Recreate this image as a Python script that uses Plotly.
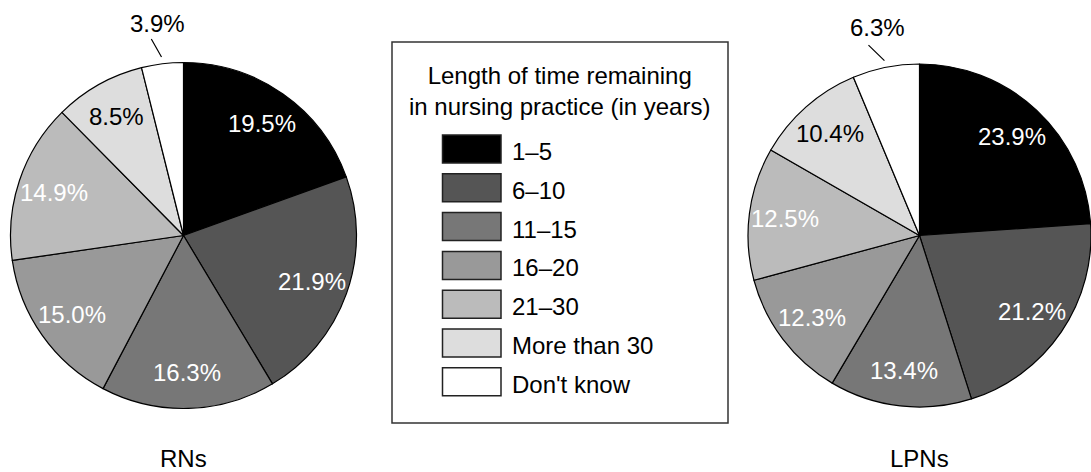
import math
import plotly.graph_objects as go

# ---- data ----------------------------------------------------------------
categories = ["1–5", "6–10", "11–15", "16–20", "21–30", "More than 30", "Don't know"]
rn_values = [19.5, 21.9, 16.3, 15.0, 14.9, 8.5, 3.9]
lpn_values = [23.9, 21.2, 13.4, 12.3, 12.5, 10.4, 6.3]
group_names = ["RNs", "LPNs"]
legend_title = "Length of time remaining<br>in nursing practice (in years)"

# ---- styling -------------------------------------------------------------
slice_colors = ["#000000", "#555555", "#777777", "#999999", "#bbbbbb", "#dddddd", "#ffffff"]
label_colors = ["white", "white", "white", "white", "white", "black", "black"]

W, H = 1091, 472
FONT = "Liberation Sans, Arial, Helvetica, sans-serif"
FS = 24

# pie geometry in pixels: centre x, centre y, radius
pie_geom = [(183.5, 235.5, 173.0), (919.5, 235.5, 171.5)]
INSIDE_R = 0.79      # radial position of inside labels (fraction of radius)
SMALL_SLICE = 7.0    # slices below this share get an outside label with a leader


def px(x):
    return x / W


def py(y):
    return 1 - y / H


def polar(cx, cy, r, deg):
    a = math.radians(deg)
    return cx + r * math.sin(a), cy - r * math.cos(a)


fig = go.Figure()
annotations = []
shapes = []

for name, values, (cx, cy, r) in zip(group_names, [rn_values, lpn_values], pie_geom):
    fig.add_trace(go.Pie(
        labels=categories,
        values=values,
        name=name,
        sort=False,
        direction="clockwise",
        rotation=0,
        textinfo="none",
        hovertemplate="%{label}: %{value:.1f}%<extra>" + name + "</extra>",
        marker=dict(colors=slice_colors, line=dict(color="#000000", width=1.2)),
        domain=dict(x=[px(cx - r), px(cx + r)], y=[py(cy + r), py(cy - r)]),
        showlegend=False,
    ))

    total = sum(values)
    cum = 0.0
    for v, tc in zip(values, label_colors):
        mid = (cum + v / 2) / total * 360.0
        cum += v
        text = f"{v:.1f}%"
        if v >= SMALL_SLICE:
            x, y = polar(cx, cy, r * INSIDE_R, mid)
            annotations.append(dict(
                x=px(x), y=py(y), xref="paper", yref="paper", text=text,
                showarrow=False, xanchor="center", yanchor="middle",
                font=dict(family=FONT, size=FS, color=tc)))
        else:
            # outside label with a short leader line
            lx, ly = polar(cx, cy, r * 1.235, mid)
            annotations.append(dict(
                x=px(lx), y=py(ly), xref="paper", yref="paper", text=text,
                showarrow=False, xanchor="center", yanchor="middle",
                font=dict(family=FONT, size=FS, color="#000000")))
            ex, ey = polar(cx, cy, r * 1.04, mid)
            sx, sy = polar(cx, cy, r * 1.16, 360 - (360 - mid) * 1.35)
            annotations.append(dict(
                x=px(ex), y=py(ey), xref="paper", yref="paper", text="",
                showarrow=True, arrowhead=0, arrowwidth=1.2, arrowcolor="#000000",
                ax=sx - ex, ay=sy - ey, standoff=0))

    annotations.append(dict(
        x=px(cx), y=py(458), xref="paper", yref="paper", text=name,
        showarrow=False, xanchor="center", yanchor="middle",
        font=dict(family=FONT, size=FS, color="#000000")))

# ---- legend key ------------------------------------------------------------
box = (392, 42, 728, 423)
shapes.append(dict(type="rect", xref="paper", yref="paper",
                   x0=px(box[0]), x1=px(box[2]), y0=py(box[3]), y1=py(box[1]),
                   line=dict(color="#333333", width=1.5), fillcolor="rgba(0,0,0,0)"))
annotations.append(dict(
    x=px(559), y=py(90.5), xref="paper", yref="paper", text=legend_title,
    showarrow=False, xanchor="center", yanchor="middle", align="center",
    font=dict(family=FONT, size=FS, color="#000000")))

sw_x0, sw_x1, sw_top, sw_h, sw_step = 442.5, 501, 135, 28, 38.8
for i, (cat, col) in enumerate(zip(categories, slice_colors)):
    top = sw_top + i * sw_step
    shapes.append(dict(type="rect", xref="paper", yref="paper",
                       x0=px(sw_x0), x1=px(sw_x1), y0=py(top + sw_h), y1=py(top),
                       line=dict(color="#222222", width=1.5), fillcolor=col))
    annotations.append(dict(
        x=px(510), y=py(top + sw_h / 2 + 2.5), xref="paper", yref="paper", text=cat,
        showarrow=False, xanchor="left", yanchor="middle",
        font=dict(family=FONT, size=FS, color="#000000")))

fig.update_layout(
    width=W, height=H,
    margin=dict(l=0, r=0, t=0, b=0),
    paper_bgcolor="white", plot_bgcolor="white",
    annotations=annotations, shapes=shapes,
    font=dict(family=FONT, size=FS, color="#000000"),
)

fig.write_html("out.html")
